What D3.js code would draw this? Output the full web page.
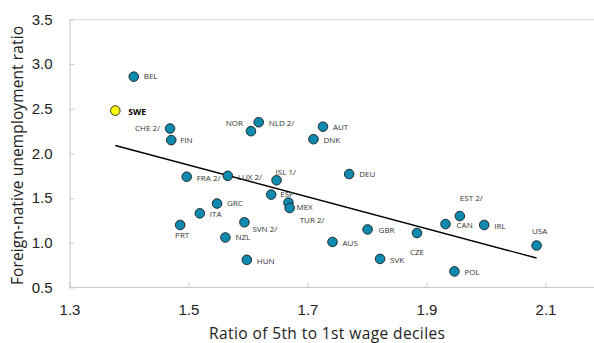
<!DOCTYPE html>
<html>
<head>
<meta charset="utf-8">
<script src="https://cdn.jsdelivr.net/npm/d3@7"></script>
<style>
  html, body { margin: 0; padding: 0; background: #fff; }
  svg { display: block; font-family: "Open Sans", "Noto Sans", sans-serif; }
</style>
</head>
<body>
<svg id="chart" width="594" height="343"></svg>
<script>
// Countries and their values
const countries = ["BEL","SWE","CHE 2/","FIN","NOR","NLD 2/","AUT","DNK","DEU","FRA 2/","LUX 2/","ISL 1/","ESP","MEX","TUR 2/","GRC","ITA","PRT","SVN 2/","NZL","HUN","AUS","GBR","CZE","SVK","EST 2/","CAN","IRL","USA","POL"];
const wageRatio = [1.408,1.377,1.469,1.471,1.605,1.618,1.726,1.710,1.770,1.497,1.566,1.648,1.639,1.668,1.670,1.548,1.519,1.486,1.594,1.562,1.598,1.742,1.801,1.884,1.822,1.956,1.932,1.997,2.085,1.947];
const unempRatio = [2.86,2.48,2.28,2.15,2.25,2.35,2.30,2.16,1.77,1.74,1.75,1.70,1.54,1.45,1.39,1.44,1.33,1.20,1.23,1.06,0.81,1.01,1.15,1.11,0.82,1.30,1.21,1.20,0.97,0.68];
const highlighted = "SWE";

// Fitted trend line end points
const trendX = [1.377, 2.085];
const trendY = [2.09, 0.83];

// Axis ticks
const xTicks = [1.3, 1.5, 1.7, 1.9, 2.1];
const yTicks = [0.5, 1.0, 1.5, 2.0, 2.5, 3.0, 3.5];

// Label placement per country: side and offsets (px)
const labelPlacement = {
  "BEL":    { anchor: "start", dx: 10, dy: 0 },
  "SWE":    { anchor: "start", dx: 13, dy: 1 },
  "CHE 2/": { anchor: "end",   dx: -10, dy: 0 },
  "FIN":    { anchor: "start", dx: 9, dy: 0 },
  "NOR":    { anchor: "end",   dx: -8, dy: -8 },
  "NLD 2/": { anchor: "start", dx: 10, dy: 1 },
  "AUT":    { anchor: "start", dx: 10, dy: 0 },
  "DNK":    { anchor: "start", dx: 10, dy: 1 },
  "DEU":    { anchor: "start", dx: 10, dy: 0 },
  "FRA 2/": { anchor: "start", dx: 10, dy: 1 },
  "LUX 2/": { anchor: "start", dx: 10, dy: 1 },
  "ISL 1/": { anchor: "start", dx: -1, dy: -8 },
  "ESP":    { anchor: "start", dx: 9, dy: 0 },
  "MEX":    { anchor: "start", dx: 8, dy: 5 },
  "TUR 2/": { anchor: "start", dx: 10, dy: 12.5 },
  "GRC":    { anchor: "start", dx: 10, dy: 0 },
  "ITA":    { anchor: "start", dx: 10, dy: 1 },
  "PRT":    { anchor: "middle", dx: 2, dy: 10 },
  "SVN 2/": { anchor: "start", dx: 8, dy: 7 },
  "NZL":    { anchor: "start", dx: 10, dy: 0 },
  "HUN":    { anchor: "start", dx: 10, dy: 1 },
  "AUS":    { anchor: "start", dx: 10, dy: 1 },
  "GBR":    { anchor: "start", dx: 11, dy: 1 },
  "CZE":    { anchor: "middle", dx: 0, dy: 19 },
  "SVK":    { anchor: "start", dx: 10, dy: 1 },
  "EST 2/": { anchor: "start", dx: 0, dy: -18 },
  "CAN":    { anchor: "start", dx: 11, dy: 1 },
  "IRL":    { anchor: "start", dx: 10, dy: 1 },
  "USA":    { anchor: "middle", dx: 3, dy: -14 },
  "POL":    { anchor: "start", dx: 10, dy: 1 }
};

const svg = d3.select("#chart");
const W = 594, H = 343;
const plot = { left: 69.5, top: 19.5, bottom: 287.5 };

const x = d3.scaleLinear().domain([1.3, 2.2]).range([plot.left, plot.left + 0.9 * 595]);
const y = d3.scaleLinear().domain([0.5, 3.5]).range([plot.bottom, plot.top]);

const axisColor = "#c8c8c8";
const textColor = "#222";

// Top frame line
svg.append("line")
  .attr("x1", plot.left).attr("x2", W)
  .attr("y1", plot.top).attr("y2", plot.top)
  .attr("stroke", "#dcdcdc").attr("stroke-width", 1);

// X axis (ticks point into the plot)
const xAxis = svg.append("g")
  .attr("transform", `translate(0,${plot.bottom})`)
  .call(d3.axisBottom(x).tickValues(xTicks).tickSizeInner(-5).tickSizeOuter(0).tickFormat(d3.format(".1f")).tickPadding(17));
xAxis.select(".domain").attr("stroke", axisColor).attr("d", `M${plot.left},0H${W}`);
xAxis.selectAll(".tick line").attr("stroke", axisColor);
xAxis.selectAll(".tick text").attr("fill", textColor).attr("font-size", 15);

// Y axis (ticks point into the plot)
const yAxis = svg.append("g")
  .attr("transform", `translate(${plot.left},0)`)
  .call(d3.axisLeft(y).tickValues(yTicks).tickSizeInner(-5).tickSizeOuter(0).tickFormat(d3.format(".1f")).tickPadding(17));
yAxis.select(".domain").attr("stroke", axisColor);
yAxis.selectAll(".tick line").attr("stroke", axisColor);
yAxis.selectAll(".tick text").attr("fill", textColor).attr("font-size", 15);

// Axis titles
svg.append("text")
  .attr("x", 327).attr("y", 339)
  .attr("text-anchor", "middle")
  .attr("font-size", 15.5).attr("fill", textColor)
  .attr("textLength", 236).attr("lengthAdjust", "spacing")
  .text("Ratio of 5th to 1st wage deciles");

svg.append("text")
  .attr("transform", `translate(23,${(plot.top + plot.bottom) / 2 + 2}) rotate(-90)`)
  .attr("text-anchor", "middle")
  .attr("font-size", 15.5).attr("fill", textColor)
  .attr("textLength", 259).attr("lengthAdjust", "spacing")
  .text("Foreign-native unemployment ratio");

// Trend line
svg.append("line")
  .attr("x1", x(trendX[0])).attr("y1", y(trendY[0]))
  .attr("x2", x(trendX[1])).attr("y2", y(trendY[1]))
  .attr("stroke", "#000").attr("stroke-width", 1.4);

const data = countries.map((c, i) => ({ name: c, wx: wageRatio[i], uy: unempRatio[i] }));

// Points
svg.append("g").selectAll("circle")
  .data(data)
  .join("circle")
  .attr("cx", d => x(d.wx))
  .attr("cy", d => y(d.uy))
  .attr("r", 4.8)
  .attr("fill", d => d.name === highlighted ? "#ffff00" : "#0e8aae")
  .attr("stroke", "#1b1b1b")
  .attr("stroke-width", 0.9);

// Country labels
svg.append("g")
  .attr("opacity", 0.999)
  .selectAll("text")
  .data(data)
  .join("text")
  .attr("x", d => x(d.wx) + labelPlacement[d.name].dx)
  .attr("y", d => y(d.uy) + labelPlacement[d.name].dy)
  .attr("dy", "0.35em")
  .attr("text-anchor", d => labelPlacement[d.name].anchor)
  .attr("font-size", d => d.name === highlighted ? 8.5 : 8)
  .attr("font-weight", d => d.name === highlighted ? "bold" : "normal")
  .attr("fill", d => d.name === highlighted ? "#000" : "#333")
  .text(d => d.name);
</script>
</body>
</html>
